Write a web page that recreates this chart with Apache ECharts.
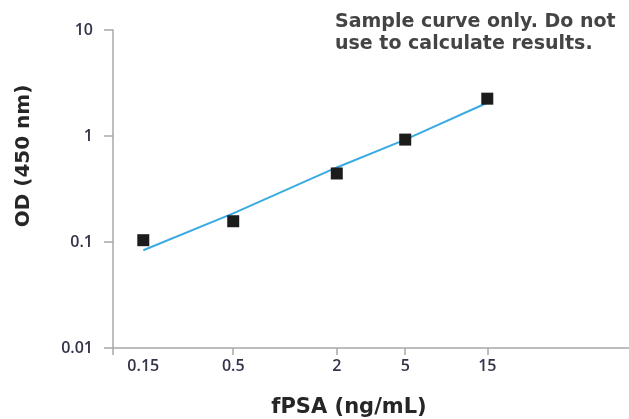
<!DOCTYPE html>
<html>
<head>
<meta charset="utf-8">
<script src="https://cdn.jsdelivr.net/npm/echarts@6/dist/echarts.min.js"></script>
<style>
  html, body { margin: 0; padding: 0; background: #ffffff; }
  #chart { width: 629px; height: 419px; }
</style>
</head>
<body>
<div id="chart"></div>
<script>
// Measured standards (squares)
const conc = [0.15, 0.5, 2, 5, 15];
const od = [0.104, 0.157, 0.443, 0.925, 2.25];
// Fitted curve (blue line)
const fitConc = [0.15, 0.5, 2, 5, 15];
const fitOD = [0.0836, 0.186, 0.505, 0.925, 2.06];
// Axis ticks / labels
const xTickValues = [0.1, 0.5, 2, 5, 15];
const xLabelValues = [0.15, 0.5, 2, 5, 15];
const yTickLabels = ['0.01', '0.1', '1', '10'];
const xTitle = 'fPSA (ng/mL)';
const yTitle = 'OD (450 nm)';
const note = 'Sample curve only. Do not\nuse to calculate results.';

const chart = echarts.init(document.getElementById('chart'), null, { renderer: 'canvas' });

const axisColor = '#a8a8a8';
const labelColor = '#33334a';

const option = {
  backgroundColor: '#ffffff',
  animation: false,
  grid: { left: 113, right: 0, top: 30, bottom: 71, containLabel: false },
  xAxis: {
    type: 'log',
    logBase: 10,
    min: 0.1,
    max: 100,
    axisLine: { show: true, lineStyle: { color: axisColor, width: 1.5 } },
    axisTick: { show: true, length: 7, lineStyle: { color: axisColor, width: 1.5 }, customValues: xTickValues },
    axisLabel: {
      customValues: xLabelValues,
      margin: 10,
      color: labelColor,
      fontFamily: 'Open Sans',
      fontWeight: 600,
      fontSize: 16,
      formatter: function (v) { return String(Math.round(v * 100) / 100); }
    },
    splitLine: { show: false },
    minorTick: { show: false }
  },
  yAxis: {
    type: 'log',
    logBase: 10,
    min: 0.01,
    max: 10,
    axisLine: { show: true, lineStyle: { color: axisColor, width: 1.5 } },
    axisTick: { show: true, length: 9, lineStyle: { color: axisColor, width: 1.5 } },
    axisLabel: {
      margin: 20,
      color: labelColor,
      fontFamily: 'Open Sans',
      fontWeight: 600,
      fontSize: 16,
      formatter: function (v) {
        const e = Math.round(Math.log10(v)) + 2;
        return yTickLabels[e] !== undefined ? yTickLabels[e] : String(v);
      }
    },
    splitLine: { show: false },
    minorTick: { show: false }
  },
  graphic: [
    {
      type: 'text', left: 335, top: 11,
      style: {
        text: note,
        font: 'bold 19px "DejaVu Sans"',
        fill: '#444444',
        lineHeight: 22
      }
    },
    {
      type: 'text', x: 349, y: 408,
      style: {
        text: xTitle,
        font: 'bold 21px "DejaVu Sans"',
        fill: '#262626',
        textAlign: 'center', textVerticalAlign: 'middle'
      }
    },
    {
      type: 'text', x: 24, y: 156, rotation: Math.PI / 2,
      style: {
        text: yTitle,
        font: 'bold 20px "DejaVu Sans"',
        fill: '#262626',
        textAlign: 'center', textVerticalAlign: 'middle'
      }
    }
  ],
  series: [
    {
      name: 'Fit',
      type: 'line',
      data: fitConc.map((x, i) => [x, fitOD[i]]),
      showSymbol: false,
      symbol: 'none',
      smooth: false,
      lineStyle: { color: '#3aabe2', width: 2 },
      z: 2
    },
    {
      name: 'Standards',
      type: 'scatter',
      data: conc.map((x, i) => [x, od[i]]),
      symbol: 'rect',
      symbolSize: 12,
      itemStyle: { color: '#1c1c1c', opacity: 1 },
      z: 3
    }
  ]
};

chart.setOption(option);
</script>
</body>
</html>
